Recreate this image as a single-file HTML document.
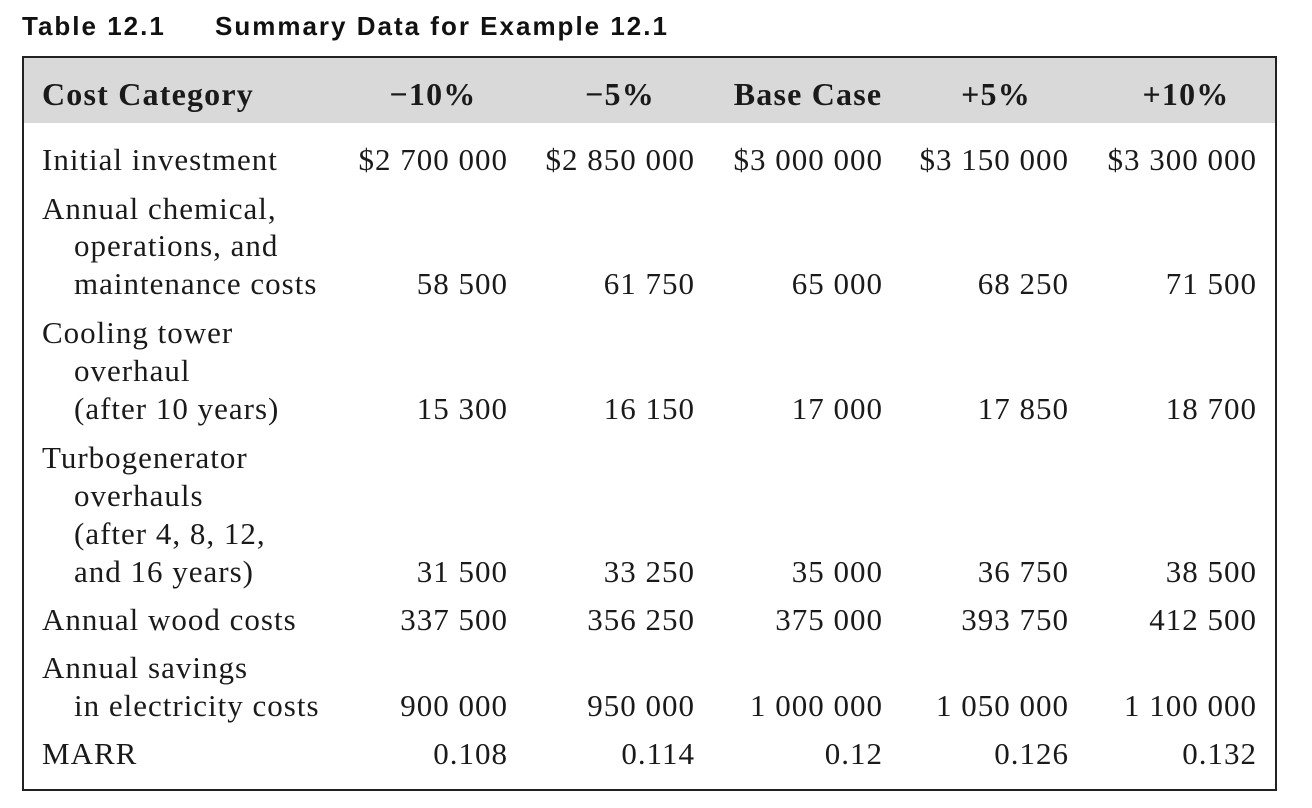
<!DOCTYPE html>
<html><head><meta charset="utf-8"><style>
body{margin:0;width:1312px;height:808px;background:#fff;position:relative;overflow:hidden}
.t{position:absolute;font-family:"Liberation Sans",sans-serif;font-weight:bold;font-size:26px;top:11px;letter-spacing:2px;color:#111}
#box{position:absolute;left:22px;top:56px;width:1251px;height:731px;border:2px solid #222}
#hdr{position:absolute;left:24px;top:58px;width:1251px;height:65px;background:#d9d9d9}
.c{position:absolute;font-family:"Liberation Serif",serif;font-size:31px;letter-spacing:1px;line-height:38px;height:38px;white-space:nowrap;color:#1a1a1a}
.h{font-weight:bold;font-size:32px;letter-spacing:1.2px}
.r{text-align:right;width:240px}
.m{text-align:center;width:240px}
</style></head><body>
<div class="t" style="left:22px">Table 12.1</div>
<div class="t" style="left:215px">Summary Data for Example 12.1</div>
<div id="hdr"></div>
<div id="box"></div>
<div id="cells"></div>
<script>
const cols=["−10%","−5%","Base Case","+5%","+10%"];
const colCenters=[433,620,808,996,1186];
const colRights=[508,695,883,1069,1257];
const labels=[[160,"Initial investment",0],[209,"Annual chemical,",0],[246,"operations, and",1],[284,"maintenance costs",1],[333,"Cooling tower",0],[371,"overhaul",1],[409,"(after 10 years)",1],[458,"Turbogenerator",0],[496,"overhauls",1],[534,"(after 4, 8, 12,",1],[572,"and 16 years)",1],[620,"Annual wood costs",0],[668,"Annual savings",0],[706,"in electricity costs",1],[754,"MARR",0]];
const rows=[[160,["$2 700 000","$2 850 000","$3 000 000","$3 150 000","$3 300 000"]],[284,["58 500","61 750","65 000","68 250","71 500"]],[409,["15 300","16 150","17 000","17 850","18 700"]],[572,["31 500","33 250","35 000","36 750","38 500"]],[620,["337 500","356 250","375 000","393 750","412 500"]],[706,["900 000","950 000","1 000 000","1 050 000","1 100 000"]],[754,["0.108","0.114","0.12","0.126","0.132"]]];
const host=document.getElementById('cells');
function mk(txt,cls,x,y){const d=document.createElement('div');d.className='c '+cls;d.textContent=txt;d.style.left=x+'px';d.style.top=(y-19)+'px';host.appendChild(d);return d;}
let e=mk("Cost Category","h",42,94);


cols.forEach((c,i)=>{const d=mk(c,"h m",colCenters[i]-120,94);

});
labels.forEach(l=>{const d=mk(l[1],"",l[2]?74:42,l[0]);

});
rows.forEach(r=>r[1].forEach((v,i)=>{const d=mk(v,"r",colRights[i]-240,r[0]);

}));
</script>
</body></html>
